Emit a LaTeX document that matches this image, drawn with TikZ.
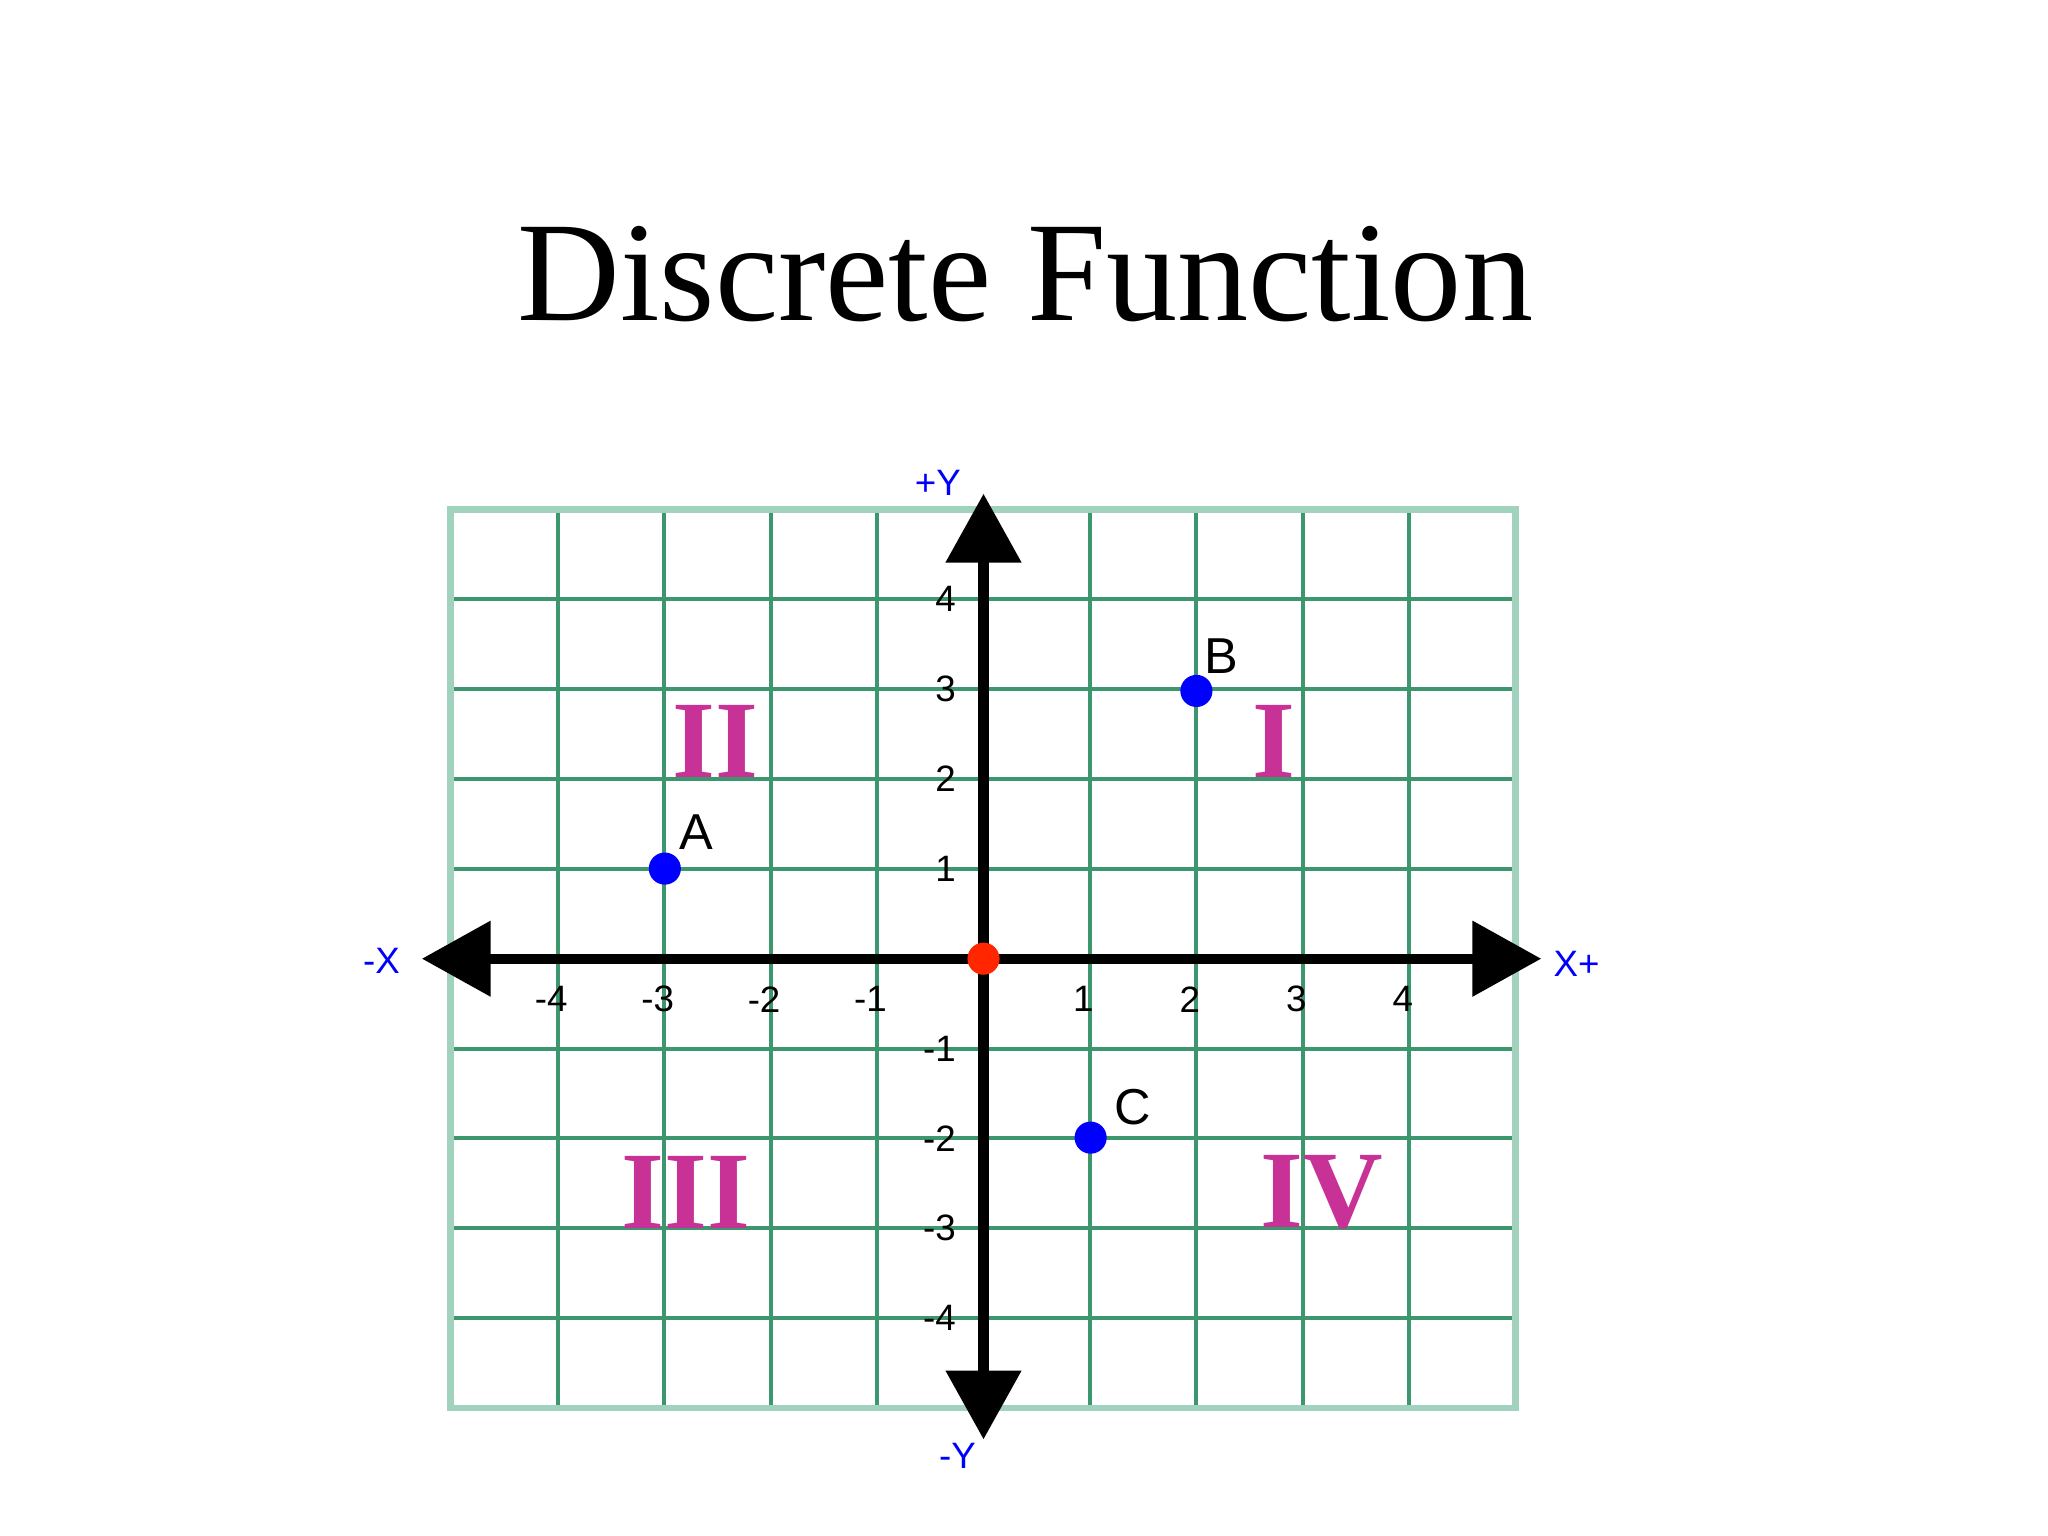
\documentclass[tikz,border=0pt]{standalone}
\usepackage{fontspec}
\setmainfont{Liberation Serif}
\setsansfont{Liberation Sans}
\usetikzlibrary{arrows.meta}
\definecolor{gridg}{RGB}{60,150,110}
\definecolor{gridl}{RGB}{160,210,190}
\definecolor{quad}{RGB}{200,50,150}
\begin{document}
\begin{tikzpicture}[x=0.02cm,y=-0.02cm,
  tick/.style={font=\sffamily\fontsize{16}{16}\selectfont},
  axl/.style={font=\sffamily\fontsize{16}{16}\selectfont,text=blue},
  quadl/.style={font=\bfseries\fontsize{48}{48}\selectfont,text=quad},
  pt/.style={circle,fill=blue,inner sep=0pt,minimum size=15\pgflinewidth},
  ptlab/.style={font=\sffamily\fontsize{22}{22}\selectfont}]
\useasboundingbox (0,0) rectangle (1568,1176);
\node (title) at (785,210) {\fontsize{62}{62}\selectfont Discrete Function};
% grid
\foreach \i in {-4,...,4} {
  \draw[gridg,line width=1.8pt] ({753+81.5*\i},390) -- ({753+81.5*\i},1078);
  \draw[gridg,line width=1.8pt] (345,{734-68.8*\i}) -- (1160,{734-68.8*\i});
}
\draw[gridl,line width=3pt] (345,390) rectangle (1160,1078);
% axes
\coordinate (xl) at (323,734); \coordinate (xr) at (1180,734);
\coordinate (yt) at (753,378); \coordinate (yb) at (753,1102);
\draw[line width=4.5pt,{Triangle[length=30,width=32]}-{Triangle[length=30,width=32]}] (xl) -- (xr);
\draw[line width=4.5pt,{Triangle[length=30,width=32]}-{Triangle[length=30,width=32]}] (yb) -- (yt);
\node[axl] (xm) at (292,736) {-X};
\node[axl] (xp) at (1207,738) {X+};
\node[axl] (yp) at (718,370) {+Y};
\node[axl] (ym) at (733,1115) {-Y};
% ticks
\foreach \i/\l in {-4/-4,-3/-3,-2/-2,-1/-1,1/1,2/2,3/3,4/4}
  \node[tick] (tx\i) at ({753+81.5*\i-5},765) {\l};
\foreach \j/\l in {4/4,3/3,2/2,1/1,-1/-1,-2/-2,-3/-3,-4/-4}
  \node[tick,anchor=east] (ty\j) at (738,{734-68.8*\j}) {\l};
% quadrants
\node[quadl] (q1) at (975,568) {I};
\node[quadl] (q2) at (548,568) {II};
\node[quadl] (q3) at (525,913) {III};
\node[quadl] (q4) at (1012,913) {IV};
% points
\node[circle,fill=blue,inner sep=0pt,minimum size=14pt] (A) at (509,665) {};
\node[circle,fill=blue,inner sep=0pt,minimum size=14pt] (B) at (916,529) {};
\node[circle,fill=blue,inner sep=0pt,minimum size=14pt] (C) at (835,871) {};
\node[circle,fill=red!70!orange,inner sep=0pt,minimum size=14pt] (O) at (753,734) {};
\node[ptlab] (lA) at (533,637) {A};
\node[ptlab] (lB) at (935,502) {B};
\node[ptlab] (lC) at (867,848) {C};
\end{tikzpicture}
\end{document}
